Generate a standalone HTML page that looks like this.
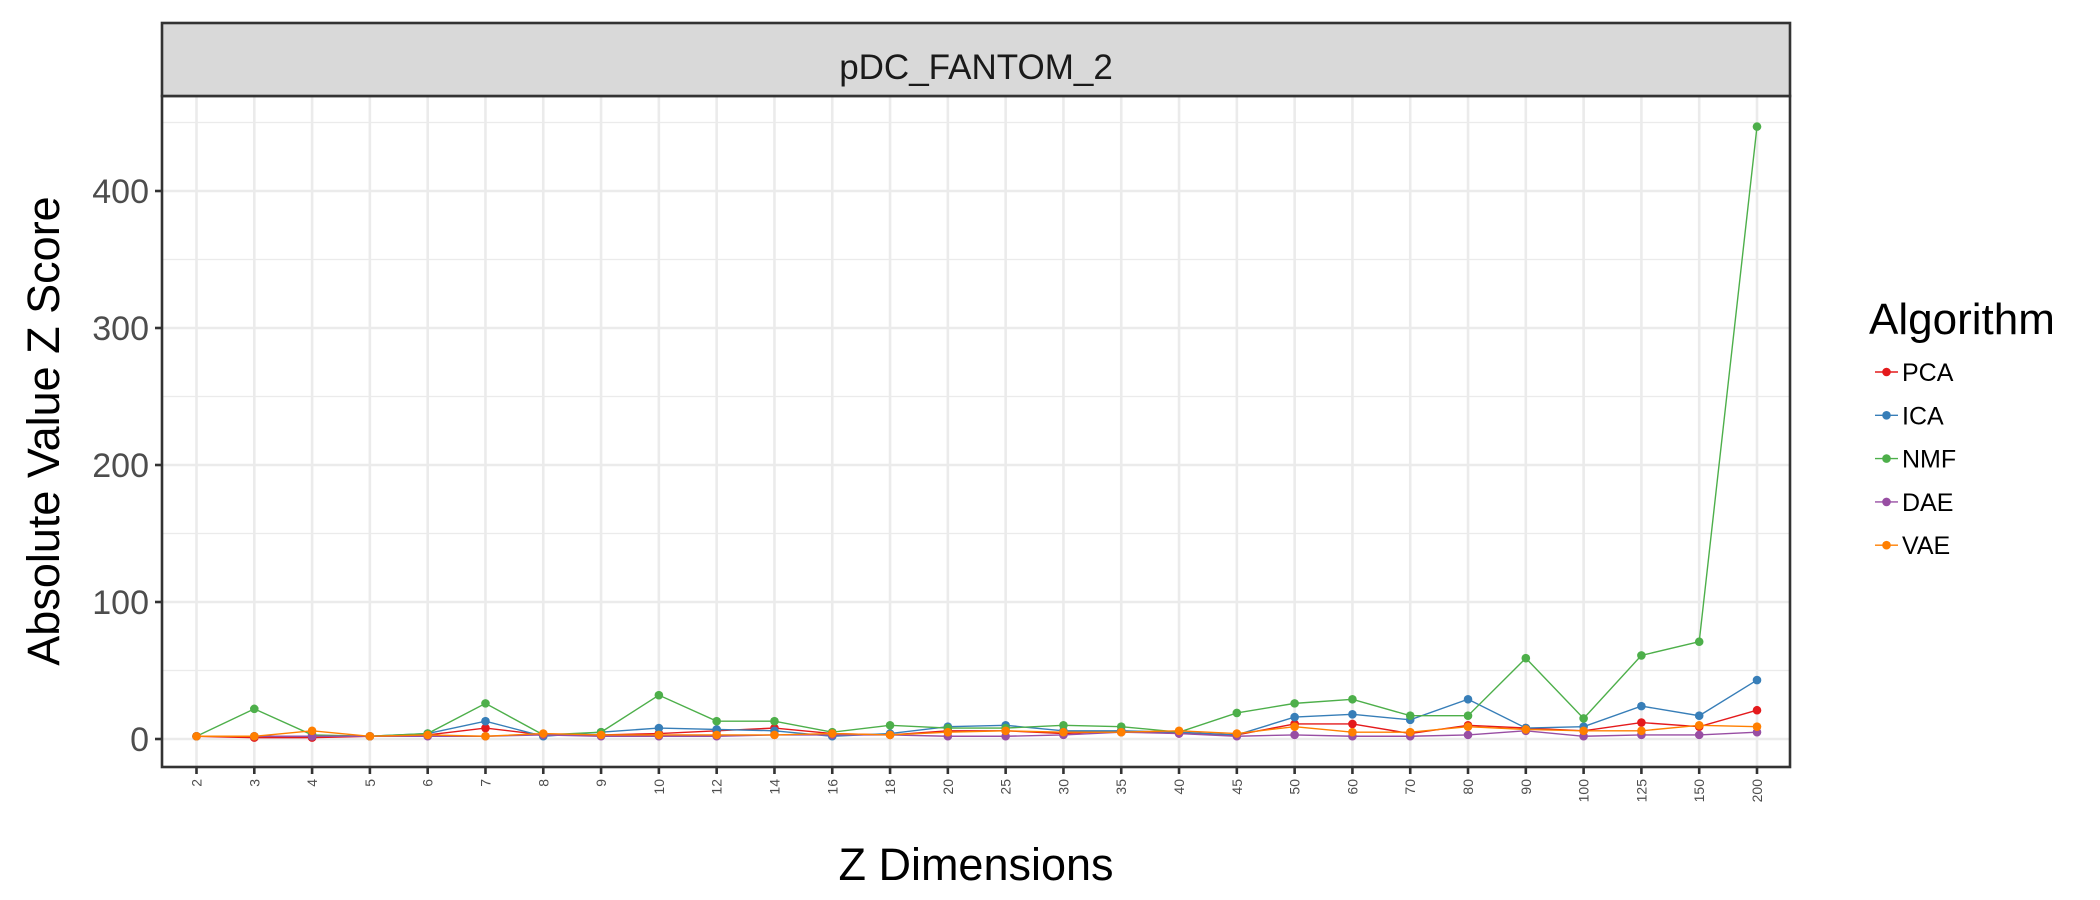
<!DOCTYPE html>
<html><head><meta charset="utf-8"><style>
body{margin:0;background:#fff;}
svg{display:block;font-family:"Liberation Sans",Arial,sans-serif;}
</style></head><body>
<svg id="chart" width="2100" height="900" xmlns="http://www.w3.org/2000/svg"></svg>
<script>
const categories=["2","3","4","5","6","7","8","9","10","12","14","16","18","20","25","30","35","40","45","50","60","70","80","90","100","125","150","200"];
const seriesNames=["PCA","ICA","NMF","DAE","VAE"];
const colors=["#E41A1C","#377EB8","#4DAF4A","#984EA3","#FF7F00"];
const pcaValues=[2,1,1,2,3,8,3,3,4,6,8,4,3,6,6,4,6,4,3,11,11,4,10,8,6,12,9,21];
const icaValues=[2,2,2,2,4,13,2,5,8,7,6,2,4,9,10,6,6,5,3,16,18,14,29,8,9,24,17,43];
const nmfValues=[2,22,3,2,4,26,3,5,32,13,13,5,10,8,8,10,9,5,19,26,29,17,17,59,15,61,71,447];
const daeValues=[2,2,2,2,2,2,3,2,2,2,3,3,3,2,2,3,5,4,2,3,2,2,3,6,2,3,3,5];
const vaeValues=[2,2,6,2,3,2,4,3,3,3,3,4,3,5,6,5,5,6,4,9,5,5,9,7,6,6,10,9];
const yTicks=[0,100,200,300,400];
const yMinor=[50,150,250,350,450];
const allSeries=[pcaValues,icaValues,nmfValues,daeValues,vaeValues];

const NS="http://www.w3.org/2000/svg";
const svg=document.getElementById('chart');
const PL=162,PR=1790,PT=96,PB=767;
function xs(i){return 196.5+i*(1757-196.5)/(categories.length-1);}
function ys(v){return 739-v*1.37;}
function mk(tag,attrs,parent){const e=document.createElementNS(NS,tag);for(const k in attrs)e.setAttribute(k,attrs[k]);(parent||svg).appendChild(e);return e;}

let r=mk('rect',{x:PL,y:PT,width:PR-PL,height:PB-PT,fill:'#fff'});


yMinor.forEach(v=>{const l=mk('line',{x1:PL,x2:PR,y1:ys(v),y2:ys(v),stroke:'#ebebeb','stroke-width':1.3});

});
yTicks.forEach(v=>{const l=mk('line',{x1:PL,x2:PR,y1:ys(v),y2:ys(v),stroke:'#ebebeb','stroke-width':2.6});

});
categories.forEach((c,i)=>{const l=mk('line',{x1:xs(i),x2:xs(i),y1:PT,y2:PB,stroke:'#ebebeb','stroke-width':2.6});

});

allSeries.forEach((vals,s)=>{
 const g=mk('g',{});
 
 
 const p=mk('polyline',{points:vals.map((v,i)=>xs(i)+','+ys(v)).join(' '),fill:'none',stroke:colors[s],'stroke-width':1.4},g);
 
 
 vals.forEach((v,i)=>{const c=mk('circle',{cx:xs(i),cy:ys(v),r:4.3,fill:colors[s]},g);
 
 });
});

r=mk('rect',{x:PL,y:PT,width:PR-PL,height:PB-PT,fill:'none',stroke:'#333','stroke-width':2.6});


r=mk('rect',{x:PL,y:23,width:PR-PL,height:PT-23,fill:'#d9d9d9',stroke:'#333','stroke-width':2.6});


let t=mk('text',{x:(PL+PR)/2,y:79,'text-anchor':'middle','font-size':35,fill:'#1a1a1a'});t.textContent='pDC_FANTOM_2';



yTicks.forEach(v=>{
 const l=mk('line',{x1:PL-7,x2:PL,y1:ys(v),y2:ys(v),stroke:'#333','stroke-width':2.6});
 
 
 const tt=mk('text',{x:PL-13,y:ys(v)+12,'text-anchor':'end','font-size':34,fill:'#4d4d4d'});tt.textContent=v;
 
 
});
categories.forEach((c,i)=>{
 const l=mk('line',{x1:xs(i),x2:xs(i),y1:PB,y2:PB+7,stroke:'#333','stroke-width':2.6});
 
 
 const tt=mk('text',{x:0,y:0,'text-anchor':'end','font-size':14,fill:'#4d4d4d',transform:'translate('+(xs(i)+5)+','+(PB+12)+') rotate(-90)'});tt.textContent=c;
 
 
});
t=mk('text',{x:(PL+PR)/2,y:880,'text-anchor':'middle','font-size':45,fill:'#000'});t.textContent='Z Dimensions';


t=mk('text',{x:0,y:0,'text-anchor':'middle','font-size':45,fill:'#000',transform:'translate(59,431) rotate(-90)'});t.textContent='Absolute Value Z Score';



const lg=mk('g',{});


t=mk('text',{x:1869,y:334,'font-size':44,fill:'#000'},lg);t.textContent='Algorithm';


seriesNames.forEach((n,s)=>{
 const y=372+s*43.3;
 const e=mk('g',{},lg);
 
 
 mk('line',{x1:1875,x2:1898,y1:y,y2:y,stroke:colors[s],'stroke-width':1.4},e);
 mk('circle',{cx:1886.5,cy:y,r:4.3,fill:colors[s]},e);
 const tt=mk('text',{x:1902,y:y+9,'font-size':25,fill:'#000'},e);tt.textContent=n;
});
</script>
</body></html>
